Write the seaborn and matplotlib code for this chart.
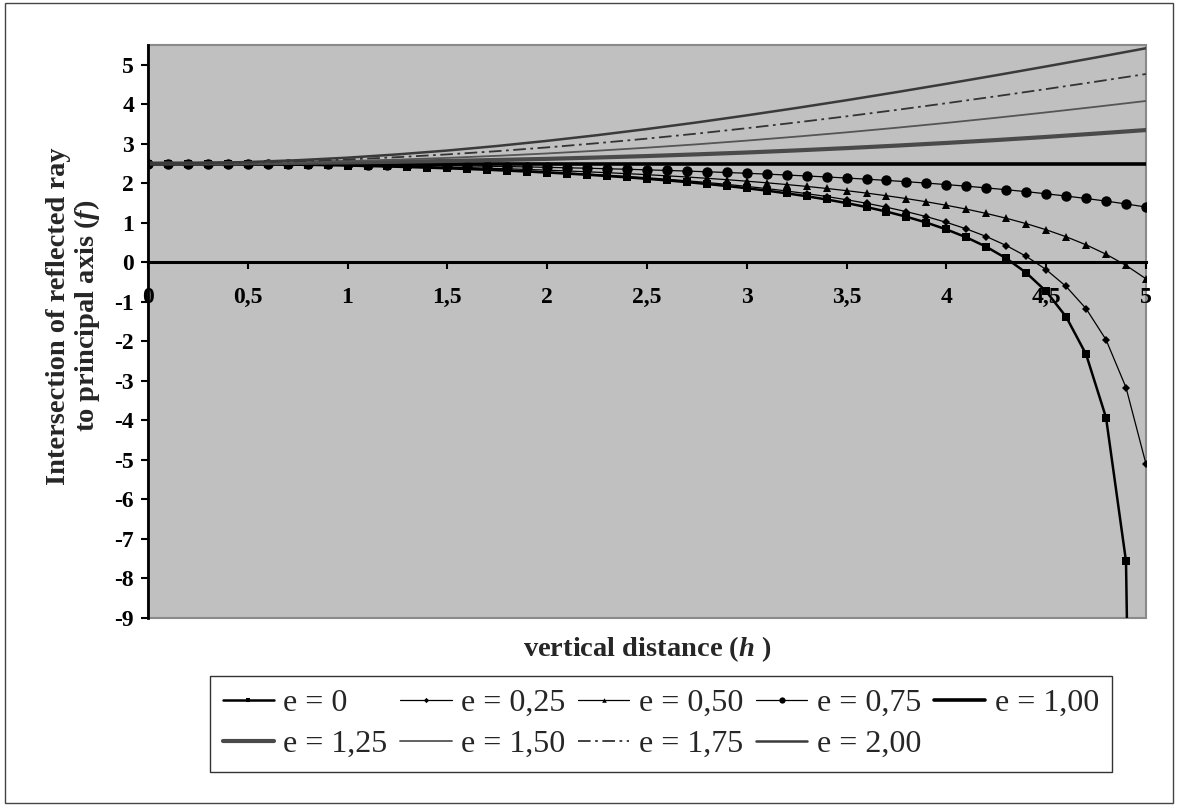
import matplotlib
matplotlib.use("Agg")
import matplotlib.pyplot as plt
import seaborn as sns
from matplotlib.patches import Rectangle

# vertical distance h (marker series sampled every 0.1)
h = [0.0, 0.1, 0.2, 0.3, 0.4, 0.5, 0.6, 0.7, 0.8, 0.9,
     1.0, 1.1, 1.2, 1.3, 1.4, 1.5, 1.6, 1.7, 1.8, 1.9,
     2.0, 2.1, 2.2, 2.3, 2.4, 2.5, 2.6, 2.7, 2.8, 2.9,
     3.0, 3.1, 3.2, 3.3, 3.4, 3.5, 3.6, 3.7, 3.8, 3.9,
     4.0, 4.1, 4.2, 4.3, 4.4, 4.5, 4.6, 4.7, 4.8, 4.9, 5.0]

f_e000 = [2.500, 2.500, 2.498, 2.496, 2.492, 2.487, 2.482, 2.475, 2.467, 2.459,
          2.449, 2.437, 2.425, 2.411, 2.396, 2.379, 2.361, 2.342, 2.320, 2.297,
          2.272, 2.245, 2.216, 2.184, 2.150, 2.113, 2.073, 2.030, 1.983, 1.931,
          1.875, 1.814, 1.746, 1.672, 1.590, 1.499, 1.398, 1.283, 1.153, 1.005,
          0.833, 0.632, 0.393, 0.101, -0.264, -0.735, -1.379, -2.328, -3.929, -7.563, -40.0]
f_e025 = [2.500, 2.500, 2.498, 2.496, 2.493, 2.488, 2.483, 2.477, 2.469, 2.461,
          2.452, 2.441, 2.430, 2.417, 2.403, 2.387, 2.370, 2.352, 2.332, 2.311,
          2.287, 2.262, 2.235, 2.206, 2.174, 2.140, 2.103, 2.063, 2.020, 1.973,
          1.921, 1.866, 1.805, 1.738, 1.665, 1.584, 1.494, 1.394, 1.282, 1.156,
          1.012, 0.846, 0.653, 0.425, 0.152, -0.185, -0.611, -1.173, -1.959, -3.168, -5.1]
f_e050 = [2.500, 2.500, 2.499, 2.497, 2.494, 2.491, 2.486, 2.481, 2.476, 2.469,
          2.462, 2.453, 2.444, 2.434, 2.422, 2.410, 2.397, 2.382, 2.367, 2.350,
          2.332, 2.312, 2.291, 2.268, 2.244, 2.218, 2.189, 2.159, 2.126, 2.091,
          2.053, 2.012, 1.968, 1.921, 1.869, 1.813, 1.752, 1.685, 1.612, 1.532,
          1.443, 1.346, 1.237, 1.115, 0.979, 0.824, 0.647, 0.443, 0.205, -0.077, -0.417]
f_e075 = [2.500, 2.500, 2.499, 2.498, 2.497, 2.495, 2.492, 2.489, 2.486, 2.482,
          2.478, 2.473, 2.467, 2.462, 2.455, 2.448, 2.440, 2.432, 2.423, 2.414,
          2.403, 2.392, 2.381, 2.368, 2.355, 2.340, 2.325, 2.309, 2.291, 2.273,
          2.253, 2.232, 2.209, 2.185, 2.160, 2.133, 2.104, 2.073, 2.040, 2.005,
          1.967, 1.927, 1.883, 1.837, 1.788, 1.734, 1.677, 1.615, 1.549, 1.477, 1.399]

# line-only series, every 0.25
h_lines = [0.0, 0.25, 0.5, 0.75, 1.0, 1.25, 1.5, 1.75, 2.0, 2.25, 2.5,
           2.75, 3.0, 3.25, 3.5, 3.75, 4.0, 4.25, 4.5, 4.75, 5.0]
f_e125 = [2.500, 2.502, 2.507, 2.516, 2.529, 2.545, 2.565, 2.590, 2.618, 2.652, 2.689,
          2.732, 2.779, 2.832, 2.890, 2.953, 3.021, 3.094, 3.173, 3.258, 3.347]
f_e150 = [2.500, 2.504, 2.516, 2.535, 2.563, 2.599, 2.643, 2.695, 2.755, 2.824, 2.901,
          2.986, 3.080, 3.181, 3.289, 3.405, 3.528, 3.658, 3.794, 3.936, 4.083]
f_e175 = [2.500, 2.506, 2.526, 2.558, 2.603, 2.661, 2.731, 2.813, 2.908, 3.014, 3.130,
          3.257, 3.394, 3.540, 3.694, 3.856, 4.026, 4.202, 4.384, 4.572, 4.765]
f_e200 = [2.500, 2.509, 2.537, 2.584, 2.648, 2.731, 2.829, 2.944, 3.074, 3.217, 3.373,
          3.540, 3.719, 3.906, 4.102, 4.306, 4.517, 4.734, 4.957, 5.184, 5.417]
h_e100 = [0.0, 5.0]
f_e100 = [2.5, 2.5]

labels = ["e = 0", "e = 0,25", "e = 0,50", "e = 0,75", "e = 1,00",
          "e = 1,25", "e = 1,50", "e = 1,75", "e = 2,00"]
xticks = [0, 0.5, 1, 1.5, 2, 2.5, 3, 3.5, 4, 4.5, 5]
xtick_labels = ["0", "0,5", "1", "1,5", "2", "2,5", "3", "3,5", "4", "4,5", "5"]

series = [
    (h, f_e000, dict(color="black", lw=1.8, marker="s", ms=6)),
    (h, f_e025, dict(color="black", lw=0.9, marker="D", ms=4.5)),
    (h, f_e050, dict(color="black", lw=0.9, marker="^", ms=5.5)),
    (h, f_e075, dict(color="black", lw=0.9, marker="o", ms=7.5)),
    (h_e100, f_e100, dict(color="black", lw=2.6)),
    (h_lines, f_e125, dict(color="#4a4a4a", lw=3)),
    (h_lines, f_e150, dict(color="#555555", lw=1.3)),
    (h_lines, f_e175, dict(color="#333333", lw=1.3, linestyle=(0, (7, 2.5, 1.5, 2.5)))),
    (h_lines, f_e200, dict(color="#3a3a3a", lw=1.8)),
]

sns.set_theme(style="white")
plt.rcParams["font.family"] = ["Liberation Serif", "DejaVu Serif"]
plt.rcParams["axes.unicode_minus"] = False
plt.rcParams["mathtext.fontset"] = "custom"
plt.rcParams["mathtext.it"] = "Liberation Serif:italic:bold"
plt.rcParams["mathtext.rm"] = "Liberation Serif:bold"

fig = plt.figure(figsize=(11.78, 8.06), dpi=100)
ax = fig.add_axes([0.1256, 0.2333, 0.8472, 0.7109])
ax.set_facecolor("#c0c0c0")

for (xs, ys, kw), lab in zip(series, labels):
    sns.lineplot(x=xs, y=ys, ax=ax, label=lab, legend=False, errorbar=None,
                 markeredgewidth=0, markeredgecolor="black", **kw)

ax.set_xlim(0, 5)
ax.set_ylim(-9, 5.5)
ax.set_yticks(range(-9, 6))
ax.set_xticks(xticks)
ax.set_xticklabels(xtick_labels)
ax.set_xlabel("")
ax.set_ylabel("")

for side in ["top", "right"]:
    ax.spines[side].set_visible(False)
ax.spines["left"].set_color("black")
ax.spines["left"].set_linewidth(2)
ax.spines["bottom"].set_position(("data", 0))
ax.spines["bottom"].set_color("black")
ax.spines["bottom"].set_linewidth(2.2)
ax.patch.set_edgecolor("#8a8a8a")
ax.patch.set_linewidth(1.5)

ax.tick_params(axis="y", direction="out", length=5, width=1.5, pad=5,
               labelsize=17, colors="black", left=True)
ax.tick_params(axis="x", direction="out", length=5, width=1.5, pad=13,
               labelsize=17, colors="black", bottom=True)
for t in ax.get_xticklabels() + ax.get_yticklabels():
    t.set_fontweight("bold")

fig.text(0.063, 0.608, "Intersection of reflected ray\nto principal axis ($f$)",
         rotation=90, ha="center", va="center", fontsize=20.5, fontweight="bold",
         linespacing=1.05, multialignment="center")
fig.text(0.549, 0.195, "vertical distance ($h$ )", ha="center", va="center",
         fontsize=20.5, fontweight="bold")

hs, ls = ax.get_legend_handles_labels()
order = [0, 5, 1, 6, 2, 7, 3, 8, 4]
leg = fig.legend([hs[i] for i in order], [ls[i] for i in order], loc="center",
                 bbox_to_anchor=(0.561, 0.102), ncol=5, frameon=True, fancybox=False,
                 edgecolor="black", fontsize=23, handlelength=1.6, handletextpad=0.3,
                 columnspacing=0.4, borderpad=0.4, labelspacing=0.38, markerscale=0.6)
leg.get_frame().set_linewidth(1)

fig.add_artist(Rectangle((0.004, 0.004), 0.992, 0.992, transform=fig.transFigure,
                         fill=False, edgecolor="#444444", lw=1))

fig.savefig("out.png", dpi=100)
